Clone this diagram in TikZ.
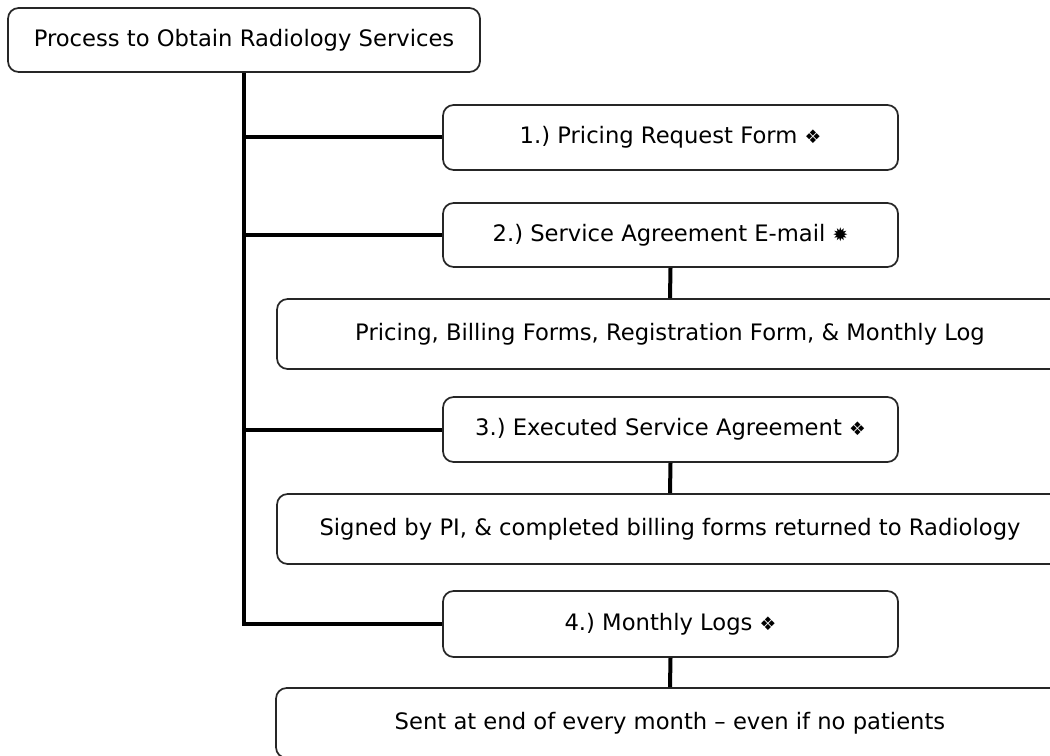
\documentclass[tikz,border=0pt]{standalone}
\usepackage{fontspec}
\setmainfont{DejaVu Sans}
\newcommand{\mk}[1]{{\fontsize{14}{14}\selectfont #1}}
\frenchspacing
\begin{document}
\begin{tikzpicture}[x=0.75pt,y=-0.75pt,
  box/.style={draw=black!85,line width=1.3pt,rounded corners=8pt,inner sep=0pt,
    minimum width=#1*0.75pt,font=\fontsize{17}{19}\selectfont},
  box/.default=455,
  link/.style={line width=3pt}]
\path[use as bounding box,clip] (0,0) rectangle (1050,756);
\node[box=472,minimum height=48pt] (top) at (244,40) {Process to Obtain Radiology Services};
\node[box,minimum height=48.75pt] (b1) at (670.5,137.5) {1.) Pricing Request Form \mk{❖}};
\node[box,minimum height=48pt] (b2) at (670.5,235) {2.) Service Agreement E-mail \mk{✹}};
\node[box=786,minimum height=52.5pt] (s2) at (670,334) {Pricing, Billing Forms, Registration Form, \& Monthly Log};
\node[box,minimum height=48.75pt] (b3) at (670.5,429.5) {3.) Executed Service Agreement \mk{❖}};
\node[box=786,minimum height=52.5pt] (s3) at (670,529) {Signed by PI, \& completed billing forms returned to Radiology};
\node[box,minimum height=49.5pt] (b4) at (670.5,624) {4.) Monthly Logs \mk{❖}};
\node[box=788,minimum height=52.5pt] (s4) at (670,723) {Sent at end of every month – even if no patients};
\draw[link] (top.south) |- (b4.west);
\draw[link] (top.south |- b1.west) -- (b1.west);
\draw[link] (top.south |- b2.west) -- (b2.west);
\draw[link] (top.south |- b3.west) -- (b3.west);
\draw[link] (b2.south) -- (s2.north);
\draw[link] (b3.south) -- (s3.north);
\draw[link] (b4.south) -- (s4.north);
\end{tikzpicture}
\end{document}
